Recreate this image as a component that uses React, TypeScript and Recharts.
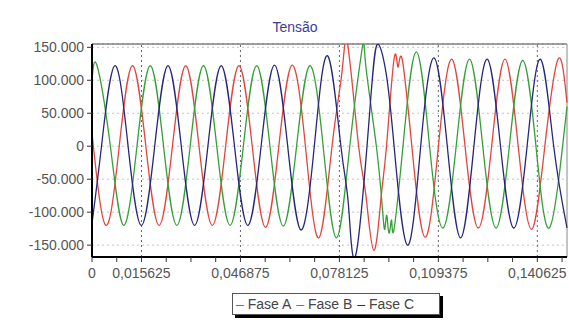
import { CartesianGrid, Line, LineChart, ReferenceLine, XAxis, YAxis } from 'recharts';

// [tempo (s), tensão], peaks / zero crossings / troughs
const faseA: [number, number][] = [
  [0, 20000], [0.0044, -120000], [0.0086, 0], [0.0128, 122000], [0.017, 0],
  [0.0212, -120000], [0.0254, 0], [0.0296, 122000], [0.0338, 0], [0.038, -120000],
  [0.0422, 0], [0.0464, 122000], [0.0506, 0], [0.0548, -123000], [0.059, 0],
  [0.0632, 123000], [0.0674, 0], [0.0716, -139000], [0.0758, 0], [0.079, 115000],
  [0.0808, 152000], [0.0842, 0], [0.0865, -75000], [0.089, -158000], [0.0913, -77000],
  [0.093, 0], [0.0954, 133000], [0.0966, 120000], [0.0979, 133000], [0.101, 0],
  [0.1052, -138000], [0.1094, 0], [0.1136, 132000], [0.1178, 0], [0.122, -124000],
  [0.1262, 0], [0.1304, 132000], [0.1346, 0], [0.1388, -126000], [0.143, 0],
  [0.1472, 132000], [0.15, 66000],
];

const faseB: [number, number][] = [
  [0, 100000], [0.0016, 122000], [0.0058, 0], [0.01, -120000], [0.0142, 0],
  [0.0184, 122000], [0.0226, 0], [0.0268, -120000], [0.031, 0], [0.0352, 122000],
  [0.0394, 0], [0.0436, -120000], [0.0478, 0], [0.052, 122000], [0.0562, 0],
  [0.0604, -121000], [0.0646, 0], [0.0688, 122000], [0.073, 0], [0.0772, -139000],
  [0.0814, 0], [0.0853, 148000], [0.0864, 125000], [0.0898, 0], [0.0918, -100000],
  [0.0925, -125000], [0.0931, -105000], [0.0938, -132000], [0.0946, -112000], [0.0953, -128000],
  [0.0982, 0], [0.1024, 143000], [0.1066, 0], [0.1108, -124000], [0.115, 0],
  [0.1192, 132000], [0.1234, 0], [0.1276, -124000], [0.1318, 0], [0.136, 130000],
  [0.1402, 0], [0.1444, -124000], [0.1486, 0], [0.15, 60000],
];

const faseC: [number, number][] = [
  [0, -117000], [0.003, 0], [0.0072, 122000], [0.0114, 0], [0.0156, -120000],
  [0.0198, 0], [0.024, 122000], [0.0282, 0], [0.0324, -120000], [0.0366, 0],
  [0.0408, 122000], [0.045, 0], [0.0492, -120000], [0.0534, 0], [0.0576, 123000],
  [0.0618, 0], [0.066, -127000], [0.0702, 0], [0.0744, 137000], [0.0786, 0],
  [0.081, -90000], [0.0833, -165000], [0.0875, 40000], [0.09, 154000], [0.0929, 110000],
  [0.0954, 0], [0.0996, -150000], [0.1038, 0], [0.108, 134000], [0.1122, 0],
  [0.1164, -139000], [0.1206, 0], [0.1248, 132000], [0.129, 0], [0.1332, -124000],
  [0.1374, 0], [0.1416, 132000], [0.1458, 0], [0.15, -124000],
];

const yTicks = [-150000, -100000, -50000, 0, 50000, 100000, 150000];
const xLabels = [0, 0.015625, 0.046875, 0.078125, 0.109375, 0.140625];
const xTicks = [
  0, 0.0078125, 0.015625, 0.0234375, 0.03125, 0.0390625, 0.046875, 0.0546875, 0.0625, 0.0703125,
  0.078125, 0.0859375, 0.09375, 0.1015625, 0.109375, 0.1171875, 0.125, 0.1328125, 0.140625, 0.1484375,
];

const RED = '#e0463e';
const GREEN = '#35a038';
const BLUE = '#26267a';
const FONT = '"Liberation Sans", Arial, sans-serif';

const toPoints = (arr: [number, number][]) => arr.map(([t, v]) => ({ t, v }));

const fmtY = (v: number) => {
  if (v === 0) return '0';
  const s = String(Math.abs(v)).replace(/\B(?=(\d{3})+(?!\d))/g, '.');
  return (v < 0 ? '-' : '') + s;
};
const fmtX = (v: number) => (xLabels.includes(v) ? String(v).replace('.', ',') : '');

export default function App() {
  const tick = { fill: '#555', fontSize: 14, fontFamily: FONT };
  return (
    <div style={{ position: 'absolute', left: 0, top: 0, width: 569, height: 327, background: '#fff', fontFamily: FONT, overflow: 'hidden' }}>
      <div style={{ position: 'absolute', left: 295, top: 19, transform: 'translateX(-50%)', fontSize: 14, color: '#3b3b9b' }}>
        Tensão
      </div>
      <LineChart width={569} height={327} margin={{ top: 44, right: 2, left: 0, bottom: 0 }}>
        <CartesianGrid vertical={false} stroke="#c4c4c4" strokeDasharray="2 3" />
        <XAxis
          dataKey="t"
          type="number"
          domain={[0, 0.15]}
          ticks={xTicks}
          interval={0}
          tickFormatter={fmtX}
          height={70}
          tick={tick}
          tickSize={5}
          tickMargin={6}
          axisLine={{ stroke: '#000', strokeWidth: 2 }}
          tickLine={{ stroke: '#333' }}
        />
        <YAxis
          type="number"
          domain={[-168000, 155000]}
          allowDataOverflow
          ticks={yTicks}
          interval={0}
          tickFormatter={fmtY}
          width={92}
          tick={tick}
          tickSize={5}
          tickMargin={3}
          axisLine={{ stroke: '#000', strokeWidth: 2 }}
          tickLine={{ stroke: '#333' }}
        />
        {xLabels.slice(1).map((x) => (
          <ReferenceLine key={x} x={x} stroke="#666" strokeDasharray="2 3" />
        ))}
        <ReferenceLine y={155000} stroke="#444" />
        <ReferenceLine x={0.15} stroke="#888" />
        <Line data={toPoints(faseA)} dataKey="v" type="natural" stroke={RED} strokeWidth={1.3} dot={false} activeDot={false} isAnimationActive={false} />
        <Line data={toPoints(faseB)} dataKey="v" type="natural" stroke={GREEN} strokeWidth={1.3} dot={false} activeDot={false} isAnimationActive={false} />
        <Line data={toPoints(faseC)} dataKey="v" type="natural" stroke={BLUE} strokeWidth={1.3} dot={false} activeDot={false} isAnimationActive={false} />
      </LineChart>
      <div
        style={{
          position: 'absolute', left: 232, top: 293, width: 203, height: 20,
          border: '1px solid #555', boxShadow: '3px 3px 0 #000', background: '#fff',
          display: 'flex', alignItems: 'center', gap: 5, paddingLeft: 3, fontSize: 14, color: '#444',
        }}
      >
        <span><span style={{ color: RED }}>–</span> Fase A</span>
        <span><span style={{ color: GREEN }}>–</span> Fase B</span>
        <span><span style={{ color: BLUE }}>–</span> Fase C</span>
      </div>
    </div>
  );
}
